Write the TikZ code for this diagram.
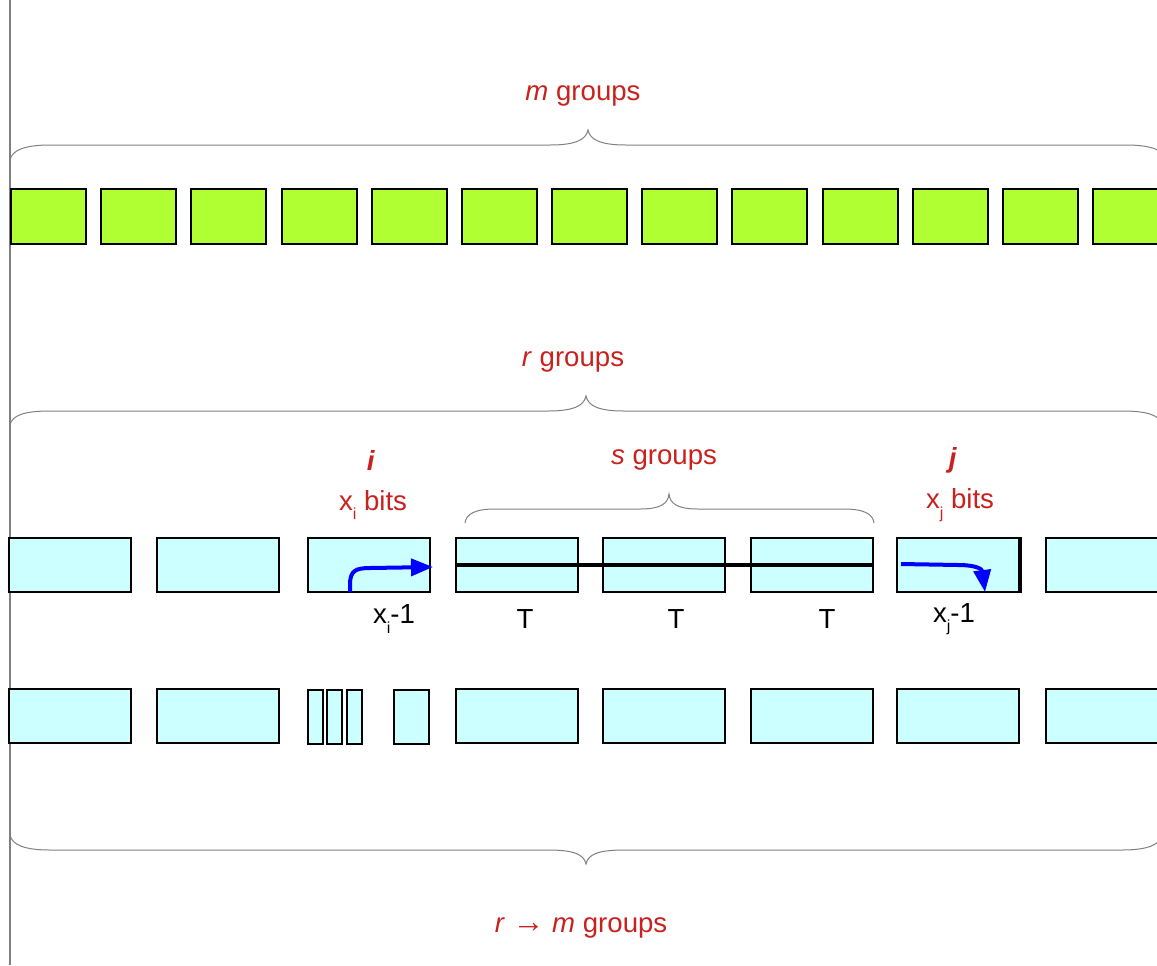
\documentclass[tikz,border=0pt]{standalone}
\usepackage{fontspec}
\setmainfont{Liberation Sans}
\usepackage{xcolor}
\usetikzlibrary{arrows.meta}
\definecolor{grpred}{RGB}{201,33,30}
\definecolor{grpgreen}{RGB}{175,255,51}
\definecolor{grpcyan}{RGB}{204,255,255}
\definecolor{bracegrey}{RGB}{128,128,128}
\tikzstyle{none}=[inner sep=0mm]
\tikzstyle{green box}=[rectangle,draw=black,line width=1pt,fill=grpgreen,inner sep=0pt,minimum width=37.5pt,minimum height=27.5pt]
\tikzstyle{cyan box}=[rectangle,draw=black,line width=1pt,fill=grpcyan,inner sep=0pt,minimum width=61pt,minimum height=27pt]
\tikzstyle{thin box}=[cyan box,minimum width=7.5pt]
\tikzstyle{brace line}=[draw=bracegrey,line width=0.5pt]
\tikzstyle{red label}=[none,text=grpred,font=\fontsize{13.8}{16}\selectfont]
\tikzstyle{black label}=[none,text=black,font=\fontsize{13.8}{16}\selectfont]
\tikzstyle{flow}=[draw=blue,line width=2pt,-{Triangle[length=11pt,width=8.5pt]}]
\newcommand{\lowsub}[1]{\raisebox{-0.35em}{\fontsize{8}{8}\selectfont #1}}

\begin{document}
\begin{tikzpicture}[x=0.5pt,y=-0.5pt]
	\useasboundingbox (0,0) rectangle (1157,965);
	\clip (0,0) rectangle (1157,965);
	\draw[bracegrey,line width=0.75pt] (10,0) -- (10,965);
	% m groups
	\node [style={red label}] (mlab) at (583, 96) {\textit{m} groups};
	\draw[style={brace line}] (10,160) .. controls (12,150) and (25,145) .. (50,145) -- (550,145)
		.. controls (575,145) and (586,140) .. (588,130) .. controls (590,140) and (601,145) .. (626,145)
		-- (1126,145) .. controls (1151,145) and (1164,150) .. (1166,160);
	\foreach \k in {0,...,12}
		\node [style={green box}] (g\k) at (48.5+90.17*\k, 216.5) {};
	% r groups
	\node [style={red label}] (rlab) at (573, 362) {\textit{r} groups};
	\draw[style={brace line}] (10,425) .. controls (12,415) and (25,411) .. (50,411) -- (548,411)
		.. controls (573,411) and (584,406) .. (586,396) .. controls (588,406) and (599,411) .. (624,411)
		-- (1122,411) .. controls (1147,411) and (1160,415) .. (1162,425);
	% upper row
	\node [style={cyan box}] (a1) at (70, 565) {};
	\node [style={cyan box}] (a2) at (218, 565) {};
	\node [style={cyan box}] (xi) at (369, 565) {};
	\node [style={cyan box}] (t1) at (516.5, 565) {};
	\node [style={cyan box}] (t2) at (664, 565) {};
	\node [style={cyan box}] (t3) at (811.5, 565) {};
	\node [style={cyan box}] (xj) at (958, 565) {};
	\node [style={cyan box}] (a8) at (1107, 565) {};
	\draw[line width=1.5pt] (xj.north east) -- (xj.south east);
	\node [style={red label}] (ilab) at (371, 460) {\textbf{\textit{i}}};
	\node [style={red label}] (xibits) at (373, 505) {x\lowsub{i} bits};
	\node [style={red label}] (slab) at (664, 460) {\textit{s} groups};
	\node [style={red label}] (jlab) at (953, 460) {\textbf{\textit{j}}};
	\node [style={red label}] (xjbits) at (960, 505) {x\lowsub{j} bits};
	\draw[style={brace line}] (465,523) .. controls (466,514) and (475,509) .. (495,509) -- (640,509)
		.. controls (660,509) and (668,504) .. (669,494) .. controls (670,504) and (678,509) .. (698,509)
		-- (844,509) .. controls (864,509) and (873,514) .. (874,523);
	\draw[line width=2pt] (t1.west) -- (t3.east);
	\coordinate (ia) at (350, 592);
	\coordinate (ib) at (433, 567);
	\draw[style=flow] (ia) -- (350,585) .. controls (350,571) and (355,568) .. (370,568) -- (ib);
	\coordinate (ja) at (901, 564);
	\coordinate (jb) at (985, 592);
	\draw[style=flow] (ja) -- (958,565) .. controls (976,565) and (982,569) .. (jb);
	\node [style={black label}] (xim) at (394, 619) {x\lowsub{i}-1};
	\node [style={black label}] (T1) at (525, 619) {T};
	\node [style={black label}] (T2) at (676, 619) {T};
	\node [style={black label}] (T3) at (827, 619) {T};
	\node [style={black label}] (xjm) at (954, 619) {x\lowsub{j}-1};
	% lower row
	\node [style={cyan box}] (b1) at (70, 716) {};
	\node [style={cyan box}] (b2) at (218, 716) {};
	\node [style={thin box}] (s1) at (315, 717) {};
	\node [style={thin box}] (s2) at (334.5, 717) {};
	\node [style={thin box}] (s3) at (354, 717) {};
	\node [style={cyan box},minimum width=17.5pt] (s4) at (411.5, 717) {};
	\node [style={cyan box}] (b5) at (516.5, 716) {};
	\node [style={cyan box}] (b6) at (664, 716) {};
	\node [style={cyan box}] (b7) at (811.5, 716) {};
	\node [style={cyan box}] (b8) at (958, 716) {};
	\node [style={cyan box}] (b9) at (1107, 716) {};
	% r -> m groups
	\draw[style={brace line}] (10,835) .. controls (12,845) and (25,850) .. (50,850) -- (548,850)
		.. controls (573,850) and (584,854) .. (586,864) .. controls (588,854) and (599,850) .. (624,850)
		-- (1122,850) .. controls (1147,850) and (1160,845) .. (1162,835);
	\node [style={red label}] (rmlab) at (581, 928) {\textit{r} {\fontsize{16}{16}\selectfont →} \textit{m} groups};
\end{tikzpicture}
\end{document}
